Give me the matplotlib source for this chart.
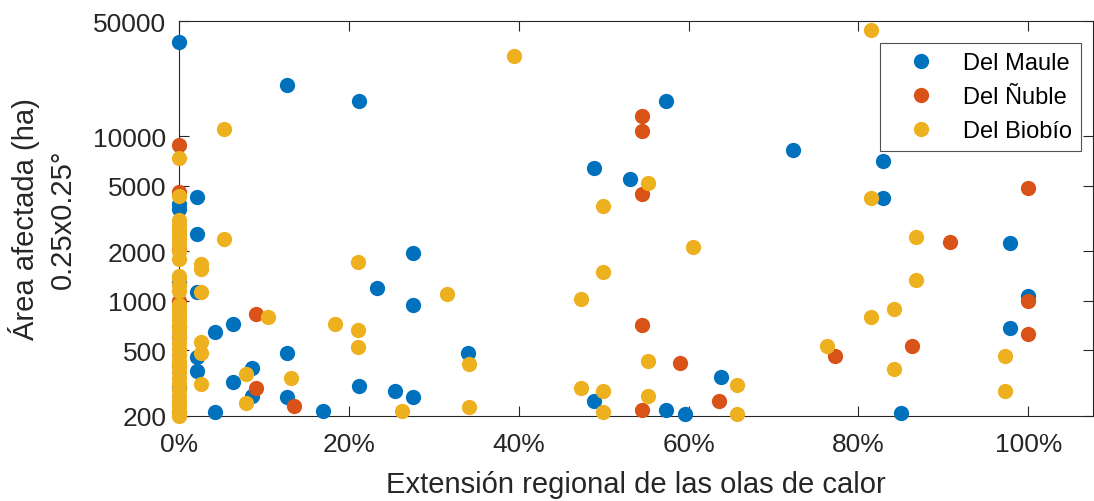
import matplotlib
matplotlib.use('Agg')
import matplotlib.pyplot as plt
from matplotlib.ticker import FuncFormatter, NullLocator, FixedLocator
import numpy as np

# datos (extension regional en fraccion, area en ha)
maule_x = [0, 0, 0, 0, 0, 0, 0.021, 0.021, 0.021, 0.021, 0.021, 0.0428, 0.0428,
           0.064, 0.064, 0.0856, 0.0856, 0.127, 0.127, 0.127, 0.17, 0.212, 0.212,
           0.2336, 0.2548, 0.276, 0.276, 0.276, 0.3404, 0.4888, 0.4888, 0.531,
           0.5736, 0.5736, 0.5952, 0.6376, 0.7228, 0.8288, 0.8288, 0.8504,
           0.978, 0.978, 1.0]
maule_y = [37500, 3870, 3600, 1300, 600, 300, 4270, 2530, 1135, 453, 375, 648, 210,
           721, 319, 388, 265, 20500, 479, 259, 213, 16400, 302,
           1190, 283, 1950, 942, 261, 481, 6380, 246, 5500,
           16300, 218, 205, 342, 8280, 7040, 4210, 207,
           2230, 680, 1073]

nuble_x = [0, 0, 0, 0, 0, 0, 0, 0.0907, 0.0907, 0.136, 0.545, 0.545, 0.545, 0.545,
           0.545, 0.59, 0.6357, 0.7723, 0.863, 0.908, 1.0, 1.0, 1.0]
nuble_y = [8880, 4600, 2030, 1000, 700, 400, 210, 826, 294, 229, 13200, 10800, 4460, 712,
           218, 416, 246, 463, 533, 2265, 4840, 1000, 628]

biobio_x = [0] * 35 + [
    0.0263, 0.0263, 0.0263, 0.0263, 0.0263, 0.0263, 0.0526, 0.0526, 0.0789, 0.0789,
    0.105, 0.1315, 0.184, 0.2104, 0.2104, 0.2104, 0.263, 0.315, 0.342, 0.342,
    0.394, 0.473, 0.473, 0.4994, 0.4994, 0.4994, 0.4994, 0.552, 0.552, 0.552,
    0.6046, 0.657, 0.657, 0.7624, 0.815, 0.815, 0.815, 0.8413, 0.8413, 0.8677,
    0.8677, 0.973, 0.973]
biobio_y = [7340, 4350, 3100, 2900, 2700, 2500, 2370, 2200, 2000, 1800, 1420, 1370,
            1250, 1150, 940, 880, 820, 760, 700, 650, 600, 550, 510, 470, 430, 400,
            370, 340, 310, 285, 265, 245, 228, 212, 200] + [
    1672, 1560, 1125, 558, 479, 312, 11100, 2370, 359, 238,
    800, 338, 721, 1712, 667, 521, 214, 1100, 412, 227,
    30600, 1025, 295, 3780, 1500, 283, 211, 5170, 428, 262,
    2120, 309, 205, 533, 44300, 4190, 793, 891, 384, 2430,
    1336, 463, 281]

series = ['Del Maule', 'Del Ñuble', 'Del Biobío']
colores = ['#0072BD', '#D95319', '#EDB120']

y_ticks = [200, 500, 1000, 2000, 5000, 10000, 50000]
x_ticks = [0, 0.2, 0.4, 0.6, 0.8, 1.0]

plt.rcParams['font.family'] = ['Liberation Sans', 'DejaVu Sans']
gris = '#262626'

fig = plt.figure(figsize=(10.94, 5.02), dpi=100)
ax = fig.add_axes([0.1636, 0.170, 0.8354, 0.7856])

datos = [(maule_x, maule_y), (nuble_x, nuble_y), (biobio_x, biobio_y)]
for (xs, ys), nombre, c in zip(datos, series, colores):
    ax.plot(xs, ys, 'o', color=c, markersize=11, markeredgewidth=0,
            label=nombre, clip_on=False, zorder=3)

ax.set_yscale('log')
ax.set_ylim(200, 50000)
ax.set_xlim(0, 1.076)
ax.yaxis.set_major_locator(FixedLocator(y_ticks))
ax.yaxis.set_minor_locator(NullLocator())
ax.yaxis.set_major_formatter(FuncFormatter(lambda v, p: f'{int(round(v))}'))
ax.xaxis.set_major_locator(FixedLocator(x_ticks))
ax.xaxis.set_major_formatter(FuncFormatter(lambda v, p: f'{int(round(v * 100))}%'))

ax.tick_params(which='both', direction='in', top=True, right=True,
               length=7, width=0.8, colors=gris, labelsize=19)
ax.tick_params(axis='x', pad=12)
ax.tick_params(axis='y', pad=9)
for s in ax.spines.values():
    s.set_color(gris)
    s.set_linewidth(0.8)

ax.set_xlabel('Extensión regional de las olas de calor', fontsize=21, color=gris, labelpad=10)
ax.set_ylabel('Área afectada (ha)\n0.25x0.25°', fontsize=21, color=gris,
              multialignment='center', linespacing=1.4)
ax.yaxis.set_label_coords(-0.112, 0.5)

leg = ax.legend(loc='upper right', bbox_to_anchor=(0.987, 0.945), borderaxespad=0,
                fontsize=17, frameon=True, fancybox=False, edgecolor=gris,
                handlelength=2.7, handletextpad=0.4, labelspacing=0.5,
                borderpad=0.4, numpoints=1)
leg.get_frame().set_linewidth(0.8)

fig.savefig('out.png', dpi=100)
